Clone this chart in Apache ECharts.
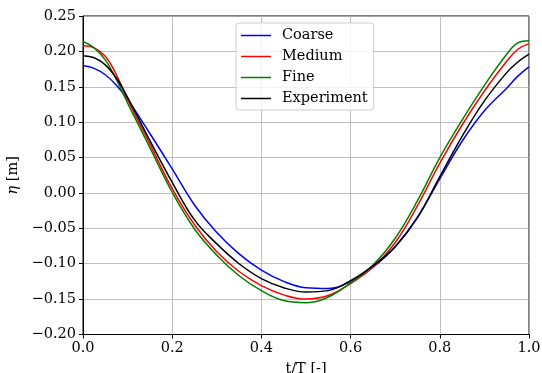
<!DOCTYPE html>
<html>
<head>
<meta charset="utf-8">
<script src="https://cdn.jsdelivr.net/npm/echarts@6/dist/echarts.min.js"></script>
<style>
  html, body { margin: 0; padding: 0; background: #fff; }
  #chart { width: 542px; height: 373px; }
</style>
</head>
<body>
<div id="chart"></div>
<script>
// Free-surface elevation over one wave period for three mesh resolutions and the measurement.
const seriesNames = ['Coarse', 'Medium', 'Fine', 'Experiment'];
const seriesColors = ['#0000ff', '#ff0000', '#008000', '#000000'];

// Sample times t/T shared by all series
const tSamples = [0, 0.025, 0.05, 0.075, 0.1, 0.15, 0.2, 0.25, 0.3, 0.35, 0.4, 0.45, 0.5, 0.55, 0.6, 0.65, 0.7, 0.75, 0.8, 0.85, 0.9, 0.95, 0.975, 1.0];

const etaCoarse = [0.180, 0.176, 0.167, 0.152, 0.132, 0.084, 0.034, -0.017, -0.056, -0.086, -0.109, -0.125, -0.134, -0.135, -0.125, -0.105, -0.076, -0.034, 0.020, 0.073, 0.116, 0.148, 0.165, 0.178];
const etaMedium = [0.208, 0.205, 0.193, 0.167, 0.132, 0.069, 0.006, -0.045, -0.083, -0.111, -0.131, -0.144, -0.150, -0.145, -0.128, -0.105, -0.070, -0.018, 0.042, 0.096, 0.144, 0.186, 0.203, 0.211];
const etaFine = [0.214, 0.205, 0.188, 0.160, 0.127, 0.064, 0.001, -0.051, -0.088, -0.117, -0.138, -0.152, -0.155, -0.147, -0.127, -0.102, -0.064, -0.011, 0.050, 0.103, 0.152, 0.196, 0.212, 0.215];
const etaExp = [0.194, 0.191, 0.181, 0.162, 0.135, 0.074, 0.015, -0.038, -0.072, -0.100, -0.121, -0.134, -0.140, -0.138, -0.124, -0.103, -0.076, -0.035, 0.023, 0.080, 0.130, 0.170, 0.185, 0.196];

const xTicks = [0, 0.2, 0.4, 0.6, 0.8, 1.0];
const yTicks = [-0.20, -0.15, -0.10, -0.05, 0.00, 0.05, 0.10, 0.15, 0.20, 0.25];

const etaSets = [etaCoarse, etaMedium, etaFine, etaExp];

const FONT = 'DejaVu Serif';
const FS = 14.5;
const chart = echarts.init(document.getElementById('chart'), null, { renderer: 'canvas' });

const series = seriesNames.map((name, i) => ({
  name: name,
  type: 'line',
  data: tSamples.map((t, k) => [t, etaSets[i][k]]),
  smooth: 0.4,
  showSymbol: false,
  symbol: 'none',
  lineStyle: { color: seriesColors[i], width: 1.5 },
  itemStyle: { color: seriesColors[i] },
  z: 3 + i
}));

chart.setOption({
  animation: false,
  backgroundColor: '#ffffff',
  grid: {
    left: 83, right: 13, top: 16, bottom: 38.5,
    containLabel: false,
    outerBoundsMode: 'none',
    show: true, borderColor: '#000', borderWidth: 1, backgroundColor: 'transparent'
  },
  legend: {
    orient: 'vertical',
    left: 236, top: 23,
    data: seriesNames,
    icon: 'rect',
    itemWidth: 30, itemHeight: 1.5,
    itemGap: 6,
    padding: [5, 6, 4, 5],
    backgroundColor: 'rgba(255,255,255,0.8)',
    borderColor: '#cccccc', borderWidth: 1, borderRadius: 3,
    textStyle: { fontFamily: FONT, fontSize: FS, color: '#000', padding: [0, 0, 0, 6] }
  },
  xAxis: {
    type: 'value',
    min: xTicks[0], max: xTicks[xTicks.length - 1], interval: 0.2,
    name: 't/T [-]', nameLocation: 'middle', nameGap: 27,
    nameTextStyle: { fontFamily: FONT, fontSize: FS, color: '#000' },
    axisLine: { show: true, onZero: false, lineStyle: { color: '#000', width: 1 } },
    axisTick: { show: true, length: 4, lineStyle: { color: '#000' } },
    axisLabel: {
      fontFamily: FONT, fontSize: FS, color: '#000', margin: 6,
      formatter: v => v.toFixed(1)
    },
    splitLine: { show: true, lineStyle: { color: '#b0b0b0', width: 0.8 } }
  },
  yAxis: {
    type: 'value',
    min: yTicks[0], max: yTicks[yTicks.length - 1], interval: 0.05,
    name: '{i|η} [m]', nameLocation: 'middle', nameGap: 55, nameRotate: 90,
    nameTextStyle: {
      fontFamily: FONT, fontSize: FS, color: '#000',
      rich: { i: { fontFamily: FONT, fontSize: FS, fontStyle: 'italic', color: '#000' } }
    },
    axisLine: { show: true, onZero: false, lineStyle: { color: '#000', width: 1 } },
    axisTick: { show: true, length: 4, lineStyle: { color: '#000' } },
    axisLabel: {
      fontFamily: FONT, fontSize: FS, color: '#000', margin: 7,
      formatter: v => v.toFixed(2).replace('-', '\u2212')
    },
    splitLine: { show: true, lineStyle: { color: '#b0b0b0', width: 0.8 } }
  },
  series: series
});
</script>
</body>
</html>
